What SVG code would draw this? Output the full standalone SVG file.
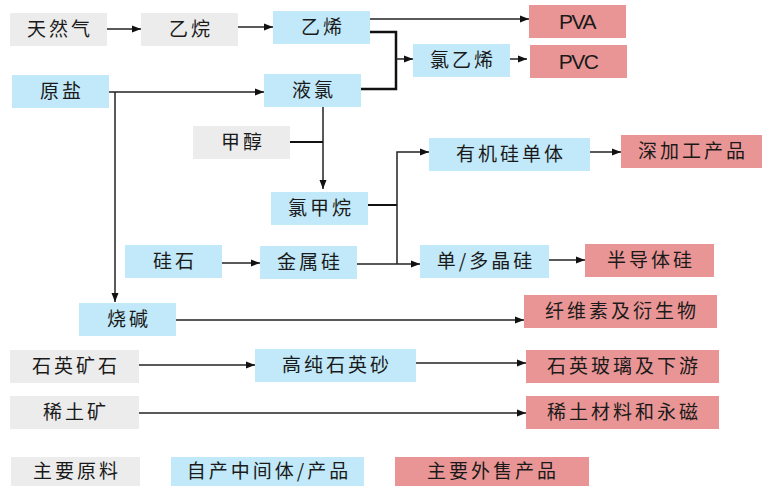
<svg xmlns="http://www.w3.org/2000/svg" width="762" height="486" viewBox="0 0 762 486">
<style>
.raw{fill:#ECECEC}
.mid{fill:#C1E9F9}
.out{fill:#E99595}
text{font-family:"Noto Sans CJK SC","Noto Sans",sans-serif;font-size:19px;fill:#1a1a1a;text-anchor:middle;letter-spacing:3px}
text.lat{font-family:"Liberation Sans",Arial,sans-serif;font-size:21px;letter-spacing:-1.5px}
.c{fill:none;stroke:#222;stroke-width:1.5}
.t{fill:none;stroke:#111;stroke-width:2.5}
</style>
<defs>
<marker id="ah" markerUnits="userSpaceOnUse" markerWidth="10" markerHeight="8" refX="9" refY="4" orient="auto">
<path d="M0,0.5 L9,4 L0,7.5 Z" fill="#111"/>
</marker>
</defs>
<g id="n_tianranqi"><rect class="raw" x="10" y="13" width="97" height="33"/><text x="60" y="36">天然气</text></g>
<g id="n_yiwan"><rect class="raw" x="141" y="13" width="97" height="33"/><text x="191" y="36">乙烷</text></g>
<g id="n_yixi"><rect class="mid" x="273" y="11" width="97" height="33"/><text x="323" y="34">乙烯</text></g>
<g id="n_pva"><rect class="out" x="529" y="5" width="97" height="33"/><text class="lat" x="577" y="29">PVA</text></g>
<g id="n_pvc"><rect class="out" x="530" y="45" width="97" height="33"/><text class="lat" x="578" y="69">PVC</text></g>
<g id="n_lvyixi"><rect class="mid" x="413" y="44" width="97" height="33"/><text x="463" y="67">氯乙烯</text></g>
<g id="n_yuanyan"><rect class="mid" x="12" y="75" width="97" height="33"/><text x="62" y="98">原盐</text></g>
<g id="n_yelv"><rect class="mid" x="264" y="74" width="97" height="33"/><text x="314" y="97">液氯</text></g>
<g id="n_jiachun"><rect class="raw" x="193" y="126" width="97" height="33"/><text x="243" y="149">甲醇</text></g>
<g id="n_lvjiawan"><rect class="mid" x="271" y="192" width="97" height="33"/><text x="321" y="215">氯甲烷</text></g>
<g id="n_youjigui"><rect class="mid" x="429" y="138" width="161" height="33"/><text x="511" y="161">有机硅单体</text></g>
<g id="n_shenjiagong"><rect class="out" x="621" y="135" width="141" height="33"/><text x="693" y="158">深加工产品</text></g>
<g id="n_guishi"><rect class="mid" x="125" y="245" width="97" height="33"/><text x="175" y="268">硅石</text></g>
<g id="n_jinshugui"><rect class="mid" x="260" y="246" width="97" height="33"/><text x="310" y="269">金属硅</text></g>
<g id="n_danduojing"><rect class="mid" x="420" y="245" width="129" height="33"/><text x="486" y="268">单/多晶硅</text></g>
<g id="n_bandaoti"><rect class="out" x="585" y="244" width="129" height="33"/><text x="651" y="267">半导体硅</text></g>
<g id="n_shaojian"><rect class="mid" x="79" y="303" width="97" height="33"/><text x="129" y="326">烧碱</text></g>
<g id="n_xianweisu"><rect class="out" x="524" y="295" width="193" height="33"/><text x="622" y="318">纤维素及衍生物</text></g>
<g id="n_shiyingkuang"><rect class="raw" x="10" y="350" width="129" height="33"/><text x="76" y="373">石英矿石</text></g>
<g id="n_gaochun"><rect class="mid" x="255" y="349" width="161" height="33"/><text x="337" y="372">高纯石英砂</text></g>
<g id="n_shiyingboli"><rect class="out" x="526" y="350" width="193" height="33"/><text x="624" y="373">石英玻璃及下游</text></g>
<g id="n_xitukuang"><rect class="raw" x="10" y="396" width="129" height="33"/><text x="76" y="419">稀土矿</text></g>
<g id="n_xitucailiao"><rect class="out" x="526" y="396" width="193" height="33"/><text x="624" y="419">稀土材料和永磁</text></g>
<g id="legend">
<rect class="raw" x="11" y="457" width="129" height="29"/><text x="77" y="478">主要原料</text>
<rect class="mid" x="171" y="457" width="193" height="29"/><text x="269" y="478">自产中间体/产品</text>
<rect class="out" x="395" y="457" width="194" height="29"/><text x="493" y="478">主要外售产品</text>
</g>
<g id="connectors">
<path class="c" d="M107,29 H141" marker-end="url(#ah)"/>
<path class="c" d="M238,27 H273" marker-end="url(#ah)"/>
<path class="c" d="M370,19 H529" marker-end="url(#ah)"/>
<path class="t" d="M370,32 H396 V89 H361"/>
<path class="c" d="M396,59 H413" marker-end="url(#ah)"/>
<path class="c" d="M510,59 H527" marker-end="url(#ah)"/>
<path class="c" d="M109,92 H264" marker-end="url(#ah)"/>
<path class="c" d="M115,92 V302" marker-end="url(#ah)"/>
<path class="c" d="M323,107 V189" marker-end="url(#ah)"/>
<path class="t" d="M290,142 H323" style="stroke-width:2"/>
<path class="t" d="M368,205 H397" style="stroke-width:2"/>
<path class="c" d="M397,264 V152 H429" marker-end="url(#ah)"/>
<path class="c" d="M357,264 H420" marker-end="url(#ah)"/>
<path class="c" d="M222,263 H260" marker-end="url(#ah)"/>
<path class="c" d="M590,152 H621" marker-end="url(#ah)"/>
<path class="c" d="M549,260 H585" marker-end="url(#ah)"/>
<path class="c" d="M176,320 H524" marker-end="url(#ah)"/>
<path class="c" d="M139,365 H255" marker-end="url(#ah)"/>
<path class="c" d="M416,363 H526" marker-end="url(#ah)"/>
<path class="c" d="M139,413 H526" marker-end="url(#ah)"/>
</g>
</svg>
